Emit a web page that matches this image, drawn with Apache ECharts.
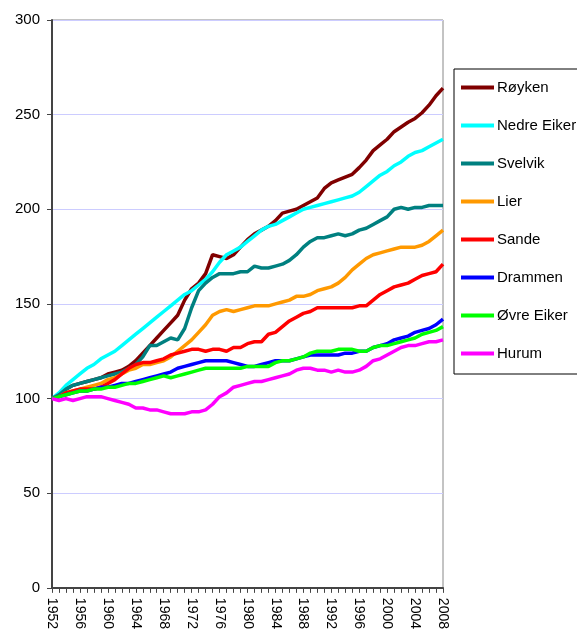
<!DOCTYPE html>
<html>
<head>
<meta charset="utf-8">
<script src="https://cdn.jsdelivr.net/npm/echarts@6/dist/echarts.min.js"></script>
<style>
  html, body { margin: 0; padding: 0; background: #fff; }
  #chart { width: 577px; height: 632px; }
</style>
</head>
<body>
<div id="chart"></div>
<script>
// years 1952..2008
const years = []
for (let y = 1952; y <= 2008; y++) years.push(String(y))

const royken = [100, 102, 105, 107, 108, 109, 110, 111, 113, 114, 115, 117, 120, 124, 128, 132, 136, 140, 144, 152,
  158, 161, 166, 176, 175, 174, 176, 180, 184, 187, 189, 191, 194, 198, 199, 200, 202, 204, 206, 211,
  214, 215.5, 217, 218.5, 222, 226, 231, 234, 237, 241, 243.5, 246, 248, 251, 255, 260, 264]
const nedreEiker = [100, 103, 107, 110, 113, 116, 118, 121, 123, 125, 128, 131, 134, 137, 140, 143, 146, 149, 152, 155,
  157, 160, 163, 167, 172, 176, 178, 180, 183, 186, 189, 191, 192, 194, 196, 198, 200, 201, 202, 203,
  204, 205, 206, 207, 209, 212, 215, 218, 220, 223, 225, 228, 230, 231, 233, 235, 237]
const svelvik = [100, 102, 105, 107, 108, 109, 110, 111, 112, 113, 114, 116, 118, 122, 128, 128, 130, 132, 131, 137,
  148, 157, 161, 164, 166, 166, 166, 167, 167, 170, 169, 169, 170, 171, 173, 176, 180, 183, 185, 185,
  186, 187, 186, 187, 189, 190, 192, 194, 196, 200, 201, 200, 201, 201, 202, 202, 202]
const lier = [100, 101, 103, 104, 105, 106, 107, 108, 110, 111, 113, 115, 116, 118, 118, 119, 120, 122, 125, 128,
  131, 135, 139, 144, 146, 147, 146, 147, 148, 149, 149, 149, 150, 151, 152, 154, 154, 155, 157, 158,
  159, 161, 164, 168, 171, 174, 176, 177, 178, 179, 180, 180, 180, 181, 183, 186, 189]
const sande = [100, 101, 103, 104, 105, 105, 105, 106, 108, 110, 113, 116, 118, 119, 119, 120, 121, 123, 124, 125,
  126, 126, 125, 126, 126, 125, 127, 127, 129, 130, 130, 134, 135, 138, 141, 143, 145, 146, 148, 148,
  148, 148, 148, 148, 149, 149, 152, 155, 157, 159, 160, 161, 163, 165, 166, 167, 171]
const drammen = [100, 101, 102, 103, 104, 104, 105, 106, 106, 107, 108, 108, 109, 110, 111, 112, 113, 114, 116, 117,
  118, 119, 120, 120, 120, 120, 119, 118, 117, 117, 118, 119, 120, 120, 120, 121, 122, 123, 123, 123,
  123, 123, 124, 124, 125, 125, 127, 128, 129, 131, 132, 133, 135, 136, 137, 139, 142]
const ovreEiker = [100, 101, 102, 103, 104, 104, 105, 105, 106, 106, 107, 108, 108, 109, 110, 111, 112, 111, 112, 113,
  114, 115, 116, 116, 116, 116, 116, 116, 117, 117, 117, 117, 119, 120, 120, 121, 122, 124, 125, 125,
  125, 126, 126, 126, 125, 125, 127, 128, 128, 129, 130, 131, 132, 134, 135, 136, 138]
const hurum = [100, 99, 100, 99, 100, 101, 101, 101, 100, 99, 98, 97, 95, 95, 94, 94, 93, 92, 92, 92,
  93, 93, 94, 97, 101, 103, 106, 107, 108, 109, 109, 110, 111, 112, 113, 115, 116, 116, 115, 115,
  114, 115, 114, 114, 115, 117, 120, 121, 123, 125, 127, 128, 128, 129, 130, 130, 131]

const names = ['Røyken', 'Nedre Eiker', 'Svelvik', 'Lier', 'Sande', 'Drammen', 'Øvre Eiker', 'Hurum']
const values = [royken, nedreEiker, svelvik, lier, sande, drammen, ovreEiker, hurum]
const colors = ['#800000', '#00FFFF', '#008080', '#FF9900', '#FF0000', '#0000FF', '#00FF00', '#FF00FF']

const chart = echarts.init(document.getElementById('chart'))
chart.setOption({
  animation: false,
  textStyle: { fontFamily: 'Liberation Sans, Arial, sans-serif' },
  grid: {
    left: 52, right: 134, top: 20, bottom: 41,
    show: true, borderColor: '#888', borderWidth: 1
  },
  legend: {
    orient: 'vertical',
    left: 454, top: 69,
    padding: [11, 40, 13, 7],
    icon: 'rect',
    itemWidth: 33, itemHeight: 4, itemGap: 23,
    borderColor: '#000', borderWidth: 1,
    textStyle: { color: '#000', fontSize: 15, lineHeight: 14, padding: [0, 0, 0, -2] },
    data: names
  },
  xAxis: {
    type: 'category', data: years, boundaryGap: false,
    axisLine: { lineStyle: { color: '#444', width: 2 } },
    axisTick: { interval: 0, length: 5, lineStyle: { color: '#444' } },
    axisLabel: { interval: 3, rotate: -90, margin: 10, color: '#000', fontSize: 14 },
    splitLine: { show: false }
  },
  yAxis: {
    type: 'value', min: 0, max: 300, interval: 50,
    axisLine: { show: true, lineStyle: { color: '#444', width: 2 } },
    axisTick: { show: true, length: 5, lineStyle: { color: '#444' } },
    axisLabel: { color: '#000', fontSize: 15, margin: 12 },
    splitLine: { lineStyle: { color: '#CCCCFF', width: 1 } }
  },
  series: names.map((n, i) => ({
    name: n, type: 'line', data: values[i],
    symbol: 'none', smooth: false,
    color: colors[i],
    lineStyle: { color: colors[i], width: 3.5 }
  }))
})
</script>
</body>
</html>
